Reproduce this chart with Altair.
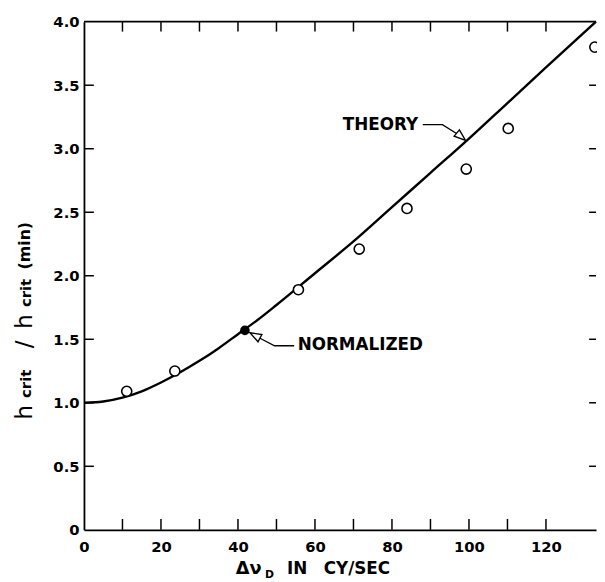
import altair as alt
import pandas as pd

# ---- data ----
curve_x = [0, 5, 10, 15, 20, 25, 30, 35, 40, 45, 50, 60, 70, 80, 90, 100, 110, 120, 133]
curve_y = [1.00, 1.01, 1.04, 1.09, 1.16, 1.24, 1.33, 1.43, 1.54, 1.65, 1.77, 2.02, 2.27, 2.54, 2.81, 3.08, 3.36, 3.64, 4.00]

meas_x = [11.1, 23.6, 55.7, 71.5, 83.9, 99.3, 110.2, 132.7]
meas_y = [1.09, 1.25, 1.89, 2.21, 2.53, 2.84, 3.16, 3.80]

norm_x = [41.8]
norm_y = [1.57]

x_label_values = [0, 20, 40, 60, 80, 100, 120]
y_label_values = [0, 0.5, 1.0, 1.5, 2.0, 2.5, 3.0, 3.5, 4.0]
x_tick_values = [10, 20, 30, 40, 50, 60, 70, 80, 90, 100, 110, 120]
y_tick_values = [0.5, 1.0, 1.5, 2.0, 2.5, 3.0, 3.5]

# annotation leaders (data coordinates)
theory_leader_x = [88.0, 93.1, 97.3]
theory_leader_y = [3.19, 3.19, 3.11]
theory_tip = (99.1, 3.066)
theory_text_pos = (86.8, 3.19)

norm_leader_x = [54.6, 49.5, 45.6]
norm_leader_y = [1.449, 1.449, 1.51]
norm_tip = (43.1, 1.551)
norm_text_pos = (55.5, 1.452)

W, H = 519, 515
FONT = "DejaVu Sans"

xs = alt.Scale(domain=[0, 133], nice=False, zero=False)
ys = alt.Scale(domain=[0, 4], nice=False, zero=False)

xaxis = alt.Axis(values=x_label_values, ticks=False, grid=False, domain=True,
                 domainColor="black", domainWidth=1.8, labelFont=FONT,
                 labelFontSize=15, labelFontWeight="bold", labelColor="black",
                 labelPadding=10, labelFlush=False, title=None)
yaxis = alt.Axis(values=y_label_values, ticks=False, grid=False, domain=True,
                 domainColor="black", domainWidth=1.8, labelFont=FONT,
                 labelFontSize=15, labelFontWeight="bold", labelColor="black",
                 labelPadding=5, labelFlush=False, title=None,
                 labelExpr="datum.value == 0 ? '0' : format(datum.value, '.1f')")


def X(f):
    return alt.X(f, type="quantitative", scale=xs, axis=xaxis)


def Y(f):
    return alt.Y(f, type="quantitative", scale=ys, axis=yaxis)


curve_df = pd.DataFrame({"x": curve_x, "y": curve_y})
meas_df = pd.DataFrame({"x": meas_x, "y": meas_y})
norm_df = pd.DataFrame({"x": norm_x, "y": norm_y})
xt_df = pd.DataFrame({"t": x_tick_values})
yt_df = pd.DataFrame({"t": y_tick_values})

curve = alt.Chart(curve_df).mark_line(color="black", strokeWidth=2.4, interpolate="monotone").encode(
    x=X("x"), y=Y("y"))

meas = alt.Chart(meas_df).mark_point(shape="circle", filled=True, fill="white", stroke="black",
                                     strokeWidth=1.6, size=105, opacity=1).encode(x=X("x"), y=Y("y"))

normp = alt.Chart(norm_df).mark_point(shape="circle", filled=True, color="black", size=95,
                                      opacity=1).encode(x=X("x"), y=Y("y"))

# frame ticks (inward)
bottom_ticks = alt.Chart(xt_df).mark_rule(color="black", strokeWidth=1.5).encode(
    x=X("t"), y=alt.value(H), y2=alt.value(H - 11))
top_ticks = alt.Chart(xt_df).mark_rule(color="black", strokeWidth=1.5).encode(
    x=X("t"), y=alt.value(0), y2=alt.value(10))
left_ticks = alt.Chart(yt_df).mark_rule(color="black", strokeWidth=1.5).encode(
    y=Y("t"), x=alt.value(0), x2=alt.value(10))
right_ticks = alt.Chart(yt_df).mark_rule(color="black", strokeWidth=1.5).encode(
    y=Y("t"), x=alt.value(W), x2=alt.value(W - 7))
top_line = alt.Chart(pd.DataFrame({"a": [0]})).mark_rule(color="black", strokeWidth=1.8).encode(
    x=alt.value(0), x2=alt.value(W), y=alt.value(0))

# annotation leaders
lead_df = pd.DataFrame({
    "x": theory_leader_x + norm_leader_x,
    "y": theory_leader_y + norm_leader_y,
    "g": ["t"] * 3 + ["n"] * 3,
    "i": [0, 1, 2, 0, 1, 2],
})
leaders = alt.Chart(lead_df).mark_line(color="black", strokeWidth=1.3).encode(
    x=X("x"), y=Y("y"), detail="g:N", order="i:Q")

ARROW = "M0,0L0.9,2.5L-0.9,2.5Z"


def arrow(tip, ang):
    return alt.Chart(pd.DataFrame({"x": [tip[0]], "y": [tip[1]]})).mark_point(
        shape=ARROW, filled=True, fill="white", stroke="black", strokeWidth=1.4,
        size=85, angle=ang, opacity=1).encode(x=X("x"), y=Y("y"))


theory_arrow = arrow(theory_tip, 130)
norm_arrow = arrow(norm_tip, 298)


def dtext(txt, pos, align):
    return alt.Chart(pd.DataFrame({"x": [pos[0]], "y": [pos[1]], "t": [txt]})).mark_text(
        align=align, baseline="middle", font=FONT, fontSize=17, fontWeight="bold",
        color="black").encode(x=X("x"), y=Y("y"), text="t:N")


theory_text = dtext("THEORY", theory_text_pos, "right")
norm_text = dtext("NORMALIZED", norm_text_pos, "left")


def ptext(txt, px, py, size, angle=0, align="center", weight="bold"):
    return alt.Chart(pd.DataFrame({"t": [txt]})).mark_text(
        align=align, baseline="alphabetic", font=FONT, fontSize=size, fontWeight=weight,
        angle=angle, color="black").encode(x=alt.value(px), y=alt.value(py), text="t:N")


# y title pieces (rotated)
ytitle = [
    ptext("h", -53, 396, 23, 270, weight=500),
    ptext("crit", -54, 367, 15, 270),
    ptext("/", -53, 327, 23, 270, weight=500),
    ptext("h", -53, 304, 23, 270, weight=500),
    ptext("crit", -54, 275, 15, 270),
    ptext("(min)", -55, 227, 16, 270),
]
# x title pieces
xtitle = [
    ptext("Δν", 167, 560, 18),
    ptext("D", 188, 564, 11),
    ptext("IN", 216, 560, 17),
    ptext("CY/SEC", 243, 560, 17, align="left"),
]

chart = alt.layer(
    top_line, bottom_ticks, top_ticks, left_ticks, right_ticks,
    curve, leaders, theory_arrow, norm_arrow, meas, normp,
    theory_text, norm_text, *ytitle, *xtitle,
).properties(
    width=W, height=H,
    autosize=alt.AutoSizeParams(type="none"),
    padding={"left": 77, "top": 10, "right": 1, "bottom": 49},
).configure_view(stroke=None)

chart.save("out.html", embed_options={"renderer": "svg", "actions": False})
